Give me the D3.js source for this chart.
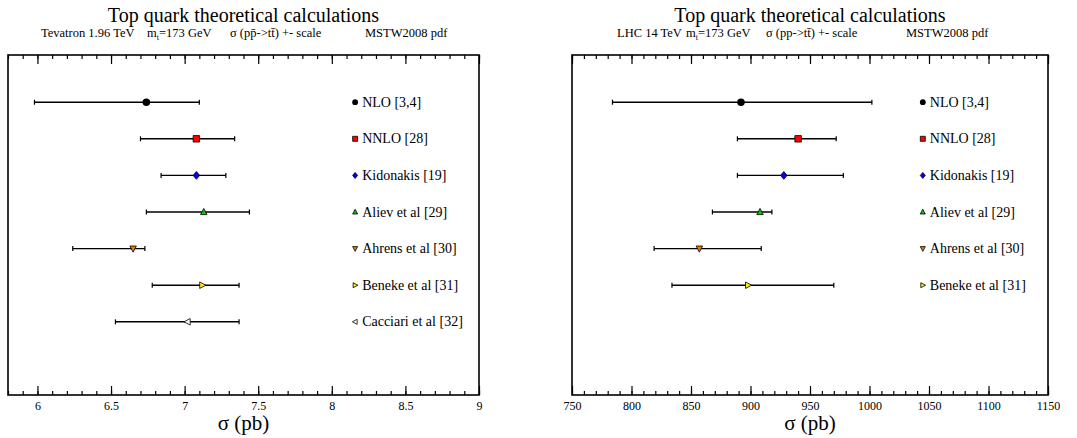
<!DOCTYPE html>
<html>
<head>
<meta charset="utf-8">
<script src="https://cdn.jsdelivr.net/npm/d3@7"></script>
<style>
  body { margin: 0; background: #fff; }
  svg text { font-family: "Liberation Serif", "Times New Roman", "DejaVu Serif", serif !important; fill: #000; }
</style>
</head>
<body>
<div id="chart"></div>
<script>
// calculations, top to bottom
let names = ["NLO [3,4]", "NNLO [28]", "Kidonakis [19]", "Aliev et al [29]",
             "Ahrens et al [30]", "Beneke et al [31]", "Cacciari et al [32]"]
let shapes = ["circle", "square", "diamond", "up", "down", "right", "left"]
let fills = ["#000000", "#ff0000", "#0000ff", "#00cc00", "#e08000", "#ffee00", "#ffffff"]

// Tevatron 1.96 TeV (pb)
let tevCentral = [6.74, 7.08, 7.08, 7.13, 6.65, 7.12, 7.02]
let tevLow     = [5.98, 6.70, 6.84, 6.74, 6.24, 6.78, 6.53]
let tevHigh    = [7.10, 7.34, 7.28, 7.44, 6.73, 7.37, 7.37]
let tevTicks = [6, 6.5, 7, 7.5, 8, 8.5, 9]

// LHC 14 TeV (pb), no Cacciari
let lhcCentral = [892, 940, 928, 908, 857, 898]
let lhcLow     = [784, 889, 889, 868, 819, 834]
let lhcHigh    = [1002, 972, 978, 918, 909, 970]
let lhcTicks = [750, 800, 850, 900, 950, 1000, 1050, 1100, 1150]

const SERIF = "Liberation Serif, Times New Roman, serif"

let svg = d3.select("#chart").append("svg")
  .attr("width", 1077)
  .attr("height", 438)

function markerPath(shape, s) {
  let h = s / 2
  if (shape == "square") return `M${-h},${-h}H${h}V${h}H${-h}Z`
  if (shape == "diamond") return `M0,${-h*1.2}L${h},0L0,${h*1.2}L${-h},0Z`
  if (shape == "up") return `M0,${-h*1.1}L${h},${h*0.8}L${-h},${h*0.8}Z`
  if (shape == "down") return `M0,${h*1.1}L${h},${-h*0.8}L${-h},${-h*0.8}Z`
  if (shape == "right") return `M${h*1.1},0L${-h*0.8},${h}L${-h*0.8},${-h}Z`
  if (shape == "left") return `M${-h*1.1},0L${h*0.8},${h}L${h*0.8},${-h}Z`
}

function drawMarker(g, shape, fill, x, y, s) {
  if (shape == "circle") {
    g.append("circle").attr("cx", x).attr("cy", y).attr("r", s * 0.58)
      .attr("fill", fill)
  } else {
    g.append("path").attr("d", markerPath(shape, s))
      .attr("transform", `translate(${x},${y})`)
      .attr("fill", fill).attr("stroke", "#000").attr("stroke-width", 0.8)
  }
}

function drawPanel(p) {
  let left = p.left, right = p.right, top = 55, bottom = 395
  let x = d3.scaleLinear().domain(p.domain).range([left, right])
  let y = d3.scaleLinear().domain([0, 9.29]).range([bottom, top])
  let g = svg.append("g").attr("font-family", SERIF)

  // title
  let cx = (left + right) / 2
  g.append("text").attr("x", cx).attr("y", 22).attr("text-anchor", "middle")
    .attr("font-size", 20).text("Top quark theoretical calculations")
  p.sub.forEach((s, i) => {
    g.append("text").attr("x", p.subX[i]).attr("y", 37)
      .attr("font-size", 12.5).html(s)
  })

  // axes, ticks on top and bottom
  let minor = d3.range(p.domain[0], p.domain[1] + p.minorStep / 2, p.minorStep)
  let bottomAxis = d3.axisBottom(x).tickValues(minor).tickSizeInner(-4)
    .tickSizeOuter(0).tickFormat("")
  let topAxis = d3.axisTop(x).tickValues(minor).tickSizeInner(-4)
    .tickSizeOuter(0).tickFormat("")
  g.append("g").attr("transform", `translate(0,${bottom})`).call(bottomAxis)
  g.append("g").attr("transform", `translate(0,${top})`).call(topAxis)
  g.append("g").attr("transform", `translate(0,${bottom})`)
    .call(d3.axisBottom(x).tickValues(p.ticks).tickSizeInner(-9).tickSizeOuter(0)
      .tickFormat(d3.format("")))
  g.append("g").attr("transform", `translate(0,${top})`)
    .call(d3.axisTop(x).tickValues(p.ticks).tickSizeInner(-9).tickSizeOuter(0)
      .tickFormat(""))
  g.selectAll(".domain").remove()
  g.selectAll("g").attr("font-family", SERIF)
  g.selectAll(".tick line").attr("stroke", "#000").attr("stroke-width", 1.2)
  g.selectAll(".tick text").attr("font-size", 12)
    .attr("dy", "0").attr("y", 14.5)

  g.append("rect").attr("x", left).attr("y", top)
    .attr("width", right - left).attr("height", bottom - top)
    .attr("fill", "none").attr("stroke", "#000").attr("stroke-width", 1.6)

  g.append("text").attr("x", cx).attr("y", 430).attr("text-anchor", "middle")
    .attr("font-size", 21).text("σ (pb)")

  // error bars
  let n = p.central.length
  let rowY = i => y(8 - i)
  for (let i = 0; i < n; i++) {
    let yy = rowY(i)
    g.append("line").attr("x1", x(p.low[i])).attr("x2", x(p.high[i]))
      .attr("y1", yy).attr("y2", yy).attr("stroke", "#000").attr("stroke-width", 1.4)
    ;[p.low[i], p.high[i]].forEach(v => {
      g.append("line").attr("x1", x(v)).attr("x2", x(v))
        .attr("y1", yy - 2.5).attr("y2", yy + 2.5)
        .attr("stroke", "#000").attr("stroke-width", 1.2)
    })
    drawMarker(g, shapes[i], fills[i], x(p.central[i]), yy, 6.5)

    // legend
    let lx = left + 0.737 * (right - left)
    drawMarker(g, shapes[i], fills[i], lx, yy, 5)
    g.append("text").attr("x", lx + 7).attr("y", yy + 4.5)
      .attr("font-size", 14).text(names[i])
  }
}

drawPanel({
  left: 8, right: 479, domain: [5.8, 9], ticks: tevTicks, minorStep: 0.1,
  central: tevCentral, low: tevLow, high: tevHigh,
  sub: ["Tevatron 1.96 TeV", "m<tspan font-size='8' dy='3'>t</tspan><tspan dy='-3'>=173 GeV</tspan>",
        "σ (pp\u0304-&gt;tt\u0304) +- scale", "MSTW2008 pdf"],
  subX: [41, 147, 230, 365]
})

drawPanel({
  left: 572, right: 1048, domain: [750, 1150], ticks: lhcTicks, minorStep: 10,
  central: lhcCentral, low: lhcLow, high: lhcHigh,
  sub: ["LHC 14 TeV", "m<tspan font-size='8' dy='3'>t</tspan><tspan dy='-3'>=173 GeV</tspan>",
        "σ (pp-&gt;tt\u0304) +- scale", "MSTW2008 pdf"],
  subX: [617, 686, 766, 906]
})
</script>
</body>
</html>
